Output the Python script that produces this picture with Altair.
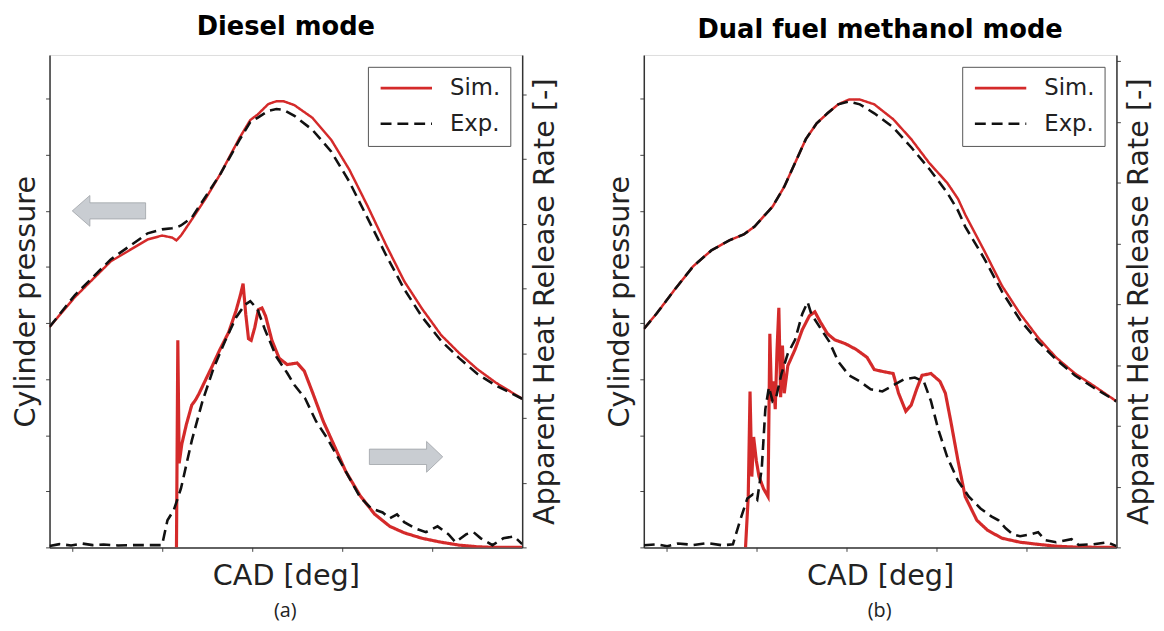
import altair as alt
import pandas as pd

SERIES = ["Sim.", "Exp."]
CAD_TICKS = [-20, -10, 0, 10, 20]
P_TICKS = [0, 20, 40, 60, 80, 100, 120, 140, 160]
HA_TICKS = [0, 20, 40, 60, 80, 100, 120, 140]
HB_TICKS = [0, 20, 40, 60, 80, 100, 120, 140, 160]

# ---------------- (a) Diesel mode ----------------
a_p_cad = [-22.5, -19.7, -15.7, -11.6, -10.0, -8.9, -8.4, -7.9, -6.7, -5.1, -3.5, -1.4, -0.2, 0.6, 1.8,
           2.7, 3.5, 4.7, 6.7, 8.8, 10.8, 12.8, 14.9, 16.9, 18.9, 21.0, 23.0, 25.0, 27.1, 30.0]
a_p_sim = [78.6, 89.2, 102.0, 109.8, 111.2, 110.5, 109.5, 111.2, 116.9, 124.7, 133.3, 146.0, 152.4, 154.3, 158.1,
           159.1, 159.1, 157.7, 153.2, 145.3, 134.7, 121.9, 107.7, 94.9, 85.0, 75.7, 69.3, 63.6, 58.7, 53.0]
a_p_exp = [78.6, 89.9, 102.7, 112.0, 113.4, 113.8, 114.1, 114.8, 117.6, 125.4, 133.3, 145.3, 151.7, 153.2, 155.7,
           156.3, 156.0, 153.9, 148.9, 141.1, 130.4, 117.6, 104.1, 92.1, 82.1, 73.6, 67.5, 61.9, 57.7, 53.0]

a_h_sim_cad = [-8.4, -8.25, -8.1, -7.8, -7.3, -6.7, -6.3, -5.9, -5.3, -4.5, -3.6, -2.6, -1.8, -1.3, -1.0,
               -0.7, -0.4, -0.1, 0.3, 0.7, 1.1, 1.5, 2.2, 3.0, 3.9, 5.0, 5.8, 6.7, 7.9, 9.2, 10.4, 12.0,
               13.6, 15.3, 16.9, 18.9, 21.0, 23.0, 25.0, 26.7, 30.0]
a_h_sim = [0, 64, 26, 32, 38, 44, 45.5, 47.5, 51, 55.6, 61, 66.5, 73, 78, 81.5,
           72, 64.5, 64, 68, 73.5, 74, 71.5, 64, 58.5, 56.5, 57, 54.5, 48, 39, 31, 23.5, 16,
           10.3, 6.5, 4.5, 2.8, 1.6, 0.7, 0.2, 0, 0]
a_h_exp_cad = [-22.5, -21.4, -20.1, -18.9, -17.7, -16.5, -14.9, -13.2, -11.6, -10.0, -9.4, -8.7, -7.9, -6.7,
               -5.5, -4.3, -3.0, -1.8, -0.8, -0.2, 0.6, 1.4, 2.7, 3.9, 4.7, 5.9, 7.1, 8.4, 9.6, 10.8, 12.0,
               13.2, 14.5, 15.3, 16.1, 16.9, 18.1, 19.3, 20.6, 21.8, 22.6, 23.8, 24.6, 25.4, 26.7, 27.9,
               29.1, 30.0]
a_h_exp = [0.4, 1.0, 0.6, 1.2, 0.7, 0.9, 0.6, 0.7, 0.7, 0.7, 8.4, 11.5, 18.2, 33.0,
           45.3, 55.2, 63.8, 71.0, 75.0, 76.1, 73.6, 67.5, 58.9, 53.9, 50.2, 46.0, 39.0, 33.5, 27.5, 21.5, 15.5,
           12.1, 10.8, 9.0, 10.2, 7.8, 5.9, 4.7, 6.5, 4.1, 1.6, 4.1, 4.7, 2.8, 0.7, 2.8,
           3.4, 1.0]

arrow_cad = [-15.9, 17.1]
arrow_p = [120.0, 32.3]
arrow_dir = ["left", "right"]

# ---------------- (b) Dual fuel methanol mode ----------------
b_p_cad = [-22.5, -21.1, -19.1, -17.0, -15.0, -13.0, -11.4, -10.2, -9.0, -8.2, -6.9, -5.7, -4.5, -3.3, -2.1,
           -0.9, 0.3, 1.5, 3.1, 5.2, 7.2, 9.2, 11.2, 12.4, 13.2, 15.3, 17.3, 19.3, 21.3, 23.3, 25.4, 27.4, 30.0]
b_p_sim = [77.9, 83.3, 91.8, 100.3, 105.9, 109.5, 111.6, 114.4, 118.7, 121.5, 128.6, 137.1, 145.6, 151.2, 154.8,
           158.0, 159.7, 159.7, 158.0, 152.7, 145.6, 137.1, 130.0, 124.3, 118.7, 105.9, 93.2, 83.3, 74.8, 67.7,
           62.0, 57.8, 52.1]
b_p_exp = [77.9, 83.3, 91.8, 100.3, 105.9, 109.5, 111.6, 114.4, 118.7, 121.5, 128.6, 137.1, 145.6, 151.2, 154.8,
           158.0, 159.0, 158.0, 154.8, 149.8, 142.7, 135.0, 126.5, 120.1, 114.4, 103.1, 91.1, 81.1, 73.4, 67.0,
           61.3, 57.1, 52.1]

b_h_sim_cad = [-11.2, -10.9, -10.7, -10.5, -10.3, -10.0, -9.7, -9.2, -8.7, -8.5, -8.3, -8.1, -7.9, -7.7, -7.5,
               -7.3, -7.1, -6.9, -6.5, -5.7, -4.9, -4.1, -3.5, -2.9, -2.1, -1.3, -0.1, 1.1, 2.3, 3.1, 4.0, 5.2,
               5.8, 6.6, 7.2, 7.8, 8.4, 9.4, 10.4, 11.0, 11.6, 12.4, 13.2, 14.5, 15.7, 17.3, 19.3, 21.3, 23.3,
               25.4, 30.0]
b_h_sim = [0, 16.7, 51.3, 23.3, 36.3, 28.5, 23.3, 19.3, 16.7, 70.3, 48.1, 54.6, 45.5, 65.1, 78.8,
           49.4, 66.4, 50.7, 59.8, 65.1, 71.6, 76.2, 77.5, 74.2, 70.3, 68.3, 67.0, 65.1, 62.5, 58.5, 57.9, 57.2,
           50.7, 44.8, 46.8, 52.0, 56.6, 57.2, 54.6, 50.7, 41.5, 28.5, 16.7, 8.9, 5.6, 3.0, 1.7, 1.0, 0.4,
           0.1, 0]
b_h_exp_cad = [-22.5, -21.1, -19.9, -18.7, -17.0, -15.4, -13.8, -12.6, -11.8, -11.0, -10.4, -9.9, -9.4, -9.0,
               -8.6, -8.2, -7.8, -7.2, -6.5, -5.7, -4.9, -4.3, -3.9, -2.9, -1.9, -0.9, 0.3, 1.5, 2.7, 4.0, 5.2,
               6.4, 7.6, 8.6, 9.4, 10.2, 11.2, 12.4, 13.6, 14.9, 16.1, 16.9, 17.7, 18.5, 19.3, 20.5, 21.3, 22.1,
               23.3, 25.0, 25.8, 27.4, 29.0, 30.0]
b_h_exp = [0.7, 1.0, 0.4, 1.3, 0.8, 1.4, 0.7, 1.0, 8.9, 16.1, 17.4, 15.7, 25.9, 45.5,
           52.7, 48.1, 49.4, 57.2, 63.8, 68.3, 76.8, 80.7, 76.8, 72.2, 67.7, 61.1, 56.6, 54.6, 52.0, 51.3, 53.3,
           55.3, 55.9, 54.6, 48.1, 38.9, 29.8, 21.9, 16.7, 12.8, 10.2, 8.9, 6.3, 4.3, 3.7, 4.3, 5.0, 2.4,
           1.7, 2.7, 0.8, 1.0, 1.7, 0.4]

RED = "#d42a2a"
BLACK = "#111111"
LEFT_ARROW = "M -1 0 L -0.52 -0.42 L -0.52 -0.22 L 1 -0.22 L 1 0.22 L -0.52 0.22 L -0.52 0.42 Z"
RIGHT_ARROW = "M 1 0 L 0.56 -0.42 L 0.56 -0.21 L -1 -0.21 L -1 0.21 L 0.56 0.21 L 0.56 0.42 Z"
W, H = 478, 498


def frame(cad_sim, sim, cad_exp, exp, col):
    rows = []
    for i, (c, v) in enumerate(zip(cad_sim, sim)):
        rows.append({"cad": c, col: v, "series": "Sim.", "i": i})
    for i, (c, v) in enumerate(zip(cad_exp, exp)):
        rows.append({"cad": c, col: v, "series": "Exp.", "i": i})
    return pd.DataFrame(rows)


def axis(**kw):
    base = dict(labels=False, grid=False, tickSize=4, tickColor="#444", tickWidth=1,
                domainColor="#333", domainWidth=1.5, titleFont="DejaVu Sans", titleFontSize=29,
                titleFontWeight="normal", titleColor="#222")
    base.update(kw)
    return alt.Axis(**base)


def legend():
    return alt.Legend(title=None, orient="top-right", offset=12, strokeColor="#555", fillColor="white",
                      padding=10, rowPadding=12, cornerRadius=0, labelFont="DejaVu Sans", labelFontSize=23,
                      labelColor="#222", symbolType="M -1 0 L 5 0", symbolSize=300, symbolStrokeWidth=2.6,
                      labelOffset=50)


def panel(title, title_offset, sub, p_df, h_df, h_domain, h_ticks, arrows=None):
    x = alt.X("cad:Q", scale=alt.Scale(domain=[-22.5, 30], nice=False, zero=False),
              axis=axis(title="CAD [deg]", values=CAD_TICKS, titlePadding=10))
    color = alt.Color("series:N", scale=alt.Scale(domain=SERIES, range=[RED, BLACK]), legend=legend())
    dash = alt.StrokeDash("series:N", scale=alt.Scale(domain=SERIES, range=[[1, 0], [11, 6]]), legend=legend())
    sw = alt.StrokeWidth("series:N", scale=alt.Scale(domain=SERIES, range=[2.5, 2.6]), legend=None)
    yp = alt.Y("p:Q", scale=alt.Scale(domain=[0, 175.6], nice=False, zero=False),
               axis=axis(title="Cylinder pressure", values=P_TICKS, titlePadding=5))
    p_line = alt.Chart(p_df).mark_line(clip=True).encode(x=x, y=yp, color=color, strokeDash=dash,
                                                          strokeWidth=sw, order="i:Q")
    press = p_line
    if arrows is not None:
        arr = alt.Chart(arrows).mark_point(filled=True, fill="#c9cdd2", stroke="#9ea3a8", strokeWidth=0.8,
                                           size=5500, opacity=1).encode(
            x=x, y=yp,
            shape=alt.Shape("dir:N", scale=alt.Scale(domain=["left", "right"], range=[LEFT_ARROW, RIGHT_ARROW]),
                            legend=None))
        press = alt.layer(arr, p_line)
    sw2 = alt.StrokeWidth("series:N", scale=alt.Scale(domain=SERIES, range=[3.2, 2.6]), legend=None)
    h_line = alt.Chart(h_df).mark_line(clip=True).encode(
        x=x,
        y=alt.Y("h:Q", scale=alt.Scale(domain=h_domain, nice=False, zero=False),
                axis=axis(title="Apparent Heat Release Rate [-]", orient="right", values=h_ticks,
                          titleAngle=270, titleBaseline="top", titlePadding=4)),
        color=color, strokeDash=dash, strokeWidth=sw2, order="i:Q")
    lay = alt.layer(press, h_line).resolve_scale(y="independent", strokeWidth="independent").properties(
        width=W, height=H,
        title=alt.Title(title, font="DejaVu Sans", fontSize=26, fontWeight="bold", color="black",
                        anchor="middle", baseline="alphabetic", offset=title_offset))
    return alt.vconcat(lay, title=alt.Title(sub, orient="bottom", font="Open Sans", fontSize=20,
                                            fontWeight="normal", color="#222", anchor="middle",
                                            baseline="top", offset=10)).resolve_scale(
        color="independent", strokeDash="independent", strokeWidth="independent", shape="independent")


pa = frame(a_p_cad, a_p_sim, a_p_cad, a_p_exp, "p")
ha = frame(a_h_sim_cad, a_h_sim, a_h_exp_cad, a_h_exp, "h")
pb = frame(b_p_cad, b_p_sim, b_p_cad, b_p_exp, "p")
hb = frame(b_h_sim_cad, b_h_sim, b_h_exp_cad, b_h_exp, "h")
arrows = pd.DataFrame({"cad": arrow_cad, "p": arrow_p, "dir": arrow_dir})

left = panel("Diesel mode", -6, "(a)", pa, ha, [0, 152.2], HA_TICKS, arrows)
right = panel("Dual fuel methanol mode", -9, "(b)", pb, hb, [0, 162.0], HB_TICKS)

chart = alt.hconcat(left, right, spacing=46).resolve_scale(
    x="independent", y="independent", color="independent", strokeDash="independent",
    strokeWidth="independent", shape="independent"
).properties(
    padding={"left": 3, "top": 2, "right": 2, "bottom": 2}
).configure_view(stroke="#333", strokeWidth=1.5).configure(background="white")

chart.save("out.html", embed_options={"renderer": "svg", "actions": False})
